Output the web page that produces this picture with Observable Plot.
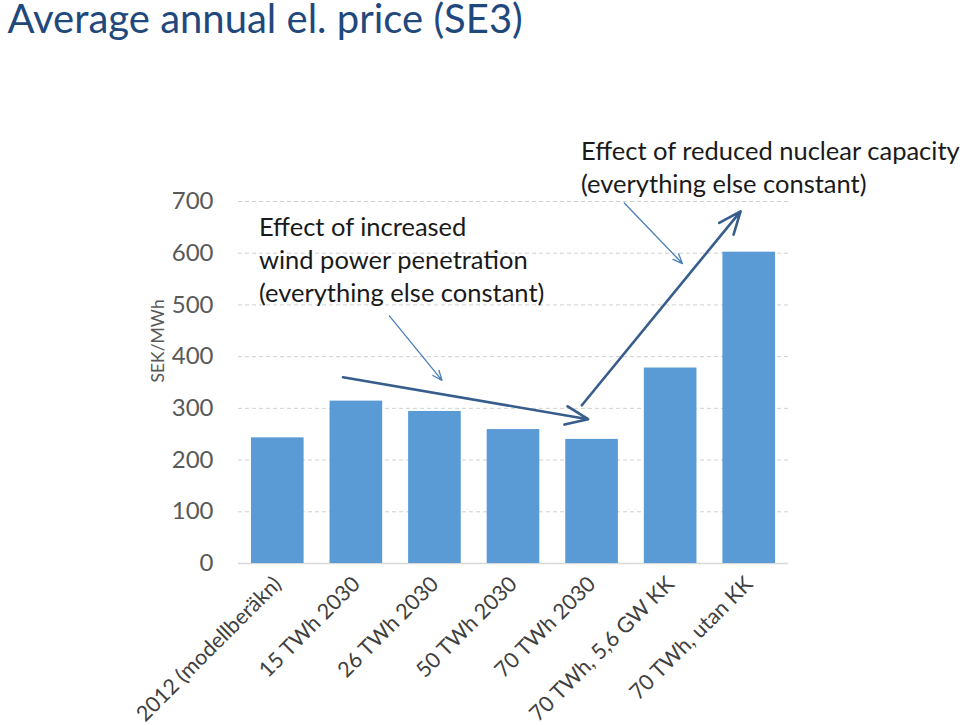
<!DOCTYPE html>
<html>
<head>
<meta charset="utf-8">
<script src="https://cdn.jsdelivr.net/npm/d3@7"></script>
<script src="https://cdn.jsdelivr.net/npm/@observablehq/plot@0.6"></script>
<style>
  body { margin: 0; background: #fff; }
  #chart { width: 960px; height: 725px; }
</style>
</head>
<body>
<div id="chart"></div>
<script>
const title = "Average annual el. price (SE3)";
const categories = ["2012 (modellberäkn)", "15 TWh 2030", "26 TWh 2030", "50 TWh 2030", "70 TWh 2030", "70 TWh, 5,6 GW KK", "70 TWh, utan KK"];
const prices = [243, 314, 294, 259, 240, 378, 602];
const yTicks = [0, 100, 200, 300, 400, 500, 600, 700];

// annotation arrows in data space (x = category index, y = SEK/MWh)
const arrowX1 = [1.42, 0.83, 4.41, 3.87];
const arrowY1 = [479, 360, 697, 306];
const arrowX2 = [2.09, 3.95, 5.15, 5.89];
const arrowY2 = [354, 279, 580, 681];
const arrowKind = ["thin", "thick", "thin", "thick"];

const noteText = ["Effect of increased\nwind power penetration\n(everything else constant)",
                  "Effect of reduced nuclear capacity\n(everything else constant)"];
const noteX = [-0.24, 3.86];
const noteY = [679, 826];

const bars = categories.map((c, i) => ({i, c, v: prices[i]}));
const arrows = arrowX1.map((x, k) => ({x1: x, y1: arrowY1[k], x2: arrowX2[k], y2: arrowY2[k], kind: arrowKind[k]}));
const notes = noteText.map((t, k) => ({t, x: noteX[k], y: noteY[k]}));

const font = "Lato, sans-serif";
const mLeft = 238, mTop = 201;
const plot = Plot.plot({
  width: 960,
  height: 725,
  marginLeft: mLeft,
  marginRight: 172,
  marginTop: mTop,
  marginBottom: 162,
  style: {fontFamily: font, background: "#fff", overflow: "visible"},
  x: {type: "linear", domain: [-0.5, 6.5]},
  y: {domain: [0, 700]},
  marks: [
    Plot.gridY(yTicks.slice(1), {stroke: "#d0d0d0", strokeOpacity: 1, strokeDasharray: "4,3"}),
    Plot.ruleY([0], {stroke: "#d9d9d9", strokeWidth: 1.5}),
    Plot.rectY(bars, {x1: d => d.i - 0.335, x2: d => d.i + 0.335, y: "v", fill: "#5b9bd5"}),
    Plot.axisY({ticks: yTicks, tickSize: 0, tickPadding: 25, fontSize: 24, color: "#595959", label: null}),
    Plot.text(["SEK/MWh"], {frameAnchor: "left", dx: -80, rotate: -90, fontSize: 17.5, fill: "#595959"}),
    Plot.axisX({ticks: d3.range(categories.length), tickFormat: i => categories[i], tickRotate: -45, tickSize: 0, tickPadding: 17, fontSize: 21.5, color: "#404040", label: null}),
    Plot.arrow(arrows.filter(d => d.kind === "thin"), {x1: "x1", y1: "y1", x2: "x2", y2: "y2", stroke: "#4a7ebb", strokeWidth: 1.3, headLength: 12, headAngle: 45}),
    Plot.arrow(arrows.filter(d => d.kind === "thick"), {x1: "x1", y1: "y1", x2: "x2", y2: "y2", stroke: "#375d8c", strokeWidth: 2.6, headLength: 14, headAngle: 45}),
    Plot.text(notes, {x: "x", y: "y", text: "t", textAnchor: "start", lineAnchor: "top", fontSize: 25.5, lineHeight: 1.3, fill: "#1a1a1a"}),
    Plot.text([title], {frameAnchor: "top-left", dx: 7 - mLeft, dy: 4 - mTop, lineAnchor: "top", textAnchor: "start", fontSize: 40, fill: "#1f497d"})
  ]
});
document.getElementById("chart").appendChild(plot);
</script>
</body>
</html>
